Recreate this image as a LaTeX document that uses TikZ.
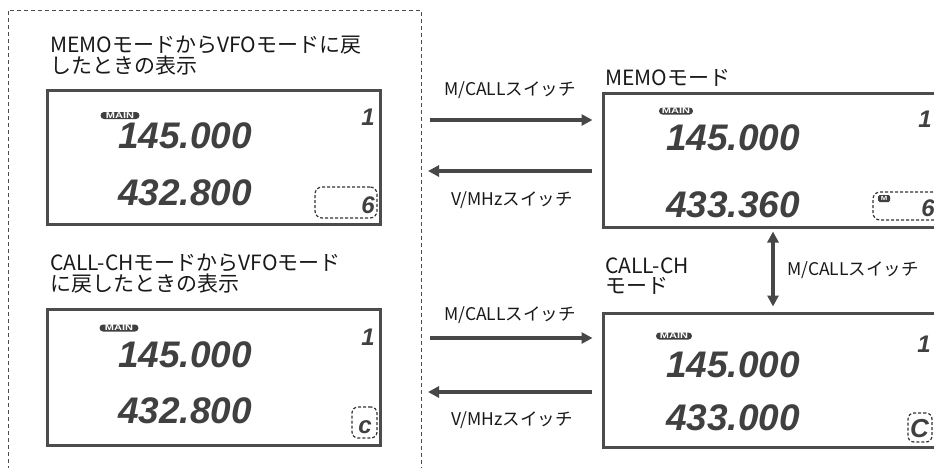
\documentclass[tikz,border=0pt]{standalone}
\usepackage{fontspec}
\setmainfont{Noto Sans CJK JP}
\newfontfamily\lcdfont{Liberation Sans}
\newfontfamily\pillfont{Liberation Sans}[FakeStretch=1.3]
\usetikzlibrary{arrows.meta}
\begin{document}
\begin{tikzpicture}[x=1pt,y=-1pt,
  every node/.style={inner sep=0pt,text=black!90},
  title/.style={font=\fontsize{21}{21}\selectfont,anchor=base west},
  swlabel/.style={font=\fontsize{17.5}{17.5}\selectfont,anchor=base},
  lcd/.style={draw=black!70,line width=3pt},
  bigdig/.style={font=\lcdfont\itshape\bfseries\fontsize{37}{37}\selectfont,text=black!75,
    text height=26pt,text depth=0pt,anchor=base east},
  smalldig/.style={font=\lcdfont\itshape\bfseries\fontsize{24}{24}\selectfont,text=black!75,anchor=base east},
  pill/.style={fill=black!75,rounded corners=3.5pt,minimum width=39,minimum height=7,text=white,
    font=\pillfont\bfseries\fontsize{8.5}{8.5}\selectfont},
  dashbox/.style={draw=black!80,line width=1.2pt,dash pattern=on 3pt off 2pt,rounded corners=7pt},
  sw/.style={draw=black!72,line width=3.2pt,-{Triangle[length=11pt,width=11pt]}}]
  \useasboundingbox (0,0) rectangle (934,467);
  \clip (0,0) rectangle (934,467);

  % left panel
  \draw[black!70,line width=0.8pt,dash pattern=on 4pt off 3pt] (8,470) -- (8,10) -- (421,10) -- (421,470);
  \node[title] (ttlA) at (50,52) {MEMOモードからVFOモードに戻};
  \node[title] (ttlAb) at (50,73) {したときの表示};
  \node[title] (ttlB) at (50,270) {CALL-CHモードからVFOモード};
  \node[title] (ttlBb) at (50,291) {に戻したときの表示};

  % displays
  \node[lcd,minimum width=333,minimum height=134] (lcdA) at (213.5,157) {};
  \node[lcd,minimum width=333,minimum height=136] (lcdB) at (213.5,377) {};
  \node[lcd,minimum width=360,minimum height=134] (lcdM) at (783,160) {};
  \node[lcd,minimum width=360,minimum height=134] (lcdC) at (783,380) {};

  % lcd A
  \node[pill] (mainA) at (120,115.5) {MAIN};
  \node[bigdig] (frqA1) at (252,148) {145.000};
  \node[bigdig] (frqA2) at (252,205) {432.800};
  \node[smalldig] (oneA) at (375,125) {1};
  \node[dashbox,minimum width=62,minimum height=31] (chA) at (346,202.5) {};
  \node[smalldig] (sixA) at (375,213) {6};

  % lcd B
  \node[pill] (mainB) at (119,328) {MAIN};
  \node[bigdig] (frqB1) at (252,367) {145.000};
  \node[bigdig] (frqB2) at (252,423) {432.800};
  \node[smalldig] (oneB) at (375,345) {1};
  \node[dashbox,minimum width=25,minimum height=31,rounded corners=6pt] (chB) at (364.5,422.5) {};
  \node[smalldig] (cB) at (372,433) {c};

  % lcd MEMO
  \node[title] (ttlM) at (605,85) {MEMOモード};
  \node[pill,minimum width=34] (mainM) at (676,111) {MAIN};
  \node[bigdig] (frqM1) at (800,150) {145.000};
  \node[bigdig] (frqM2) at (800,217) {433.360};
  \node[smalldig] (oneM) at (932,127) {1};
  \node[dashbox,minimum width=77,minimum height=28] (chM) at (911.5,206) {};
  \node[pill,minimum width=12,minimum height=7,rounded corners=1.5pt,font=\pillfont\bfseries\fontsize{6}{6}\selectfont] (memM) at (884,198.5) {M};
  \node[smalldig] (sixM) at (935,216) {6};

  % lcd CALL-CH
  \node[title] (ttlC) at (605,273) {CALL-CH};
  \node[title] (ttlCb) at (605,293) {モード};
  \node[pill,minimum width=36] (mainC) at (674,336) {MAIN};
  \node[bigdig] (frqC1) at (800,377) {145.000};
  \node[bigdig] (frqC2) at (800,430) {433.000};
  \node[smalldig] (oneC) at (931,352) {1};
  \node[dashbox,minimum width=24,minimum height=29,rounded corners=6pt] (chC) at (920,427.5) {};
  \node[smalldig,font=\lcdfont\itshape\bfseries\fontsize{26}{26}\selectfont] (cC) at (929,437) {C};

  % switches
  \coordinate (inM) at (430,120);
  \coordinate (outM) at (428,171);
  \coordinate (inC) at (430,338);
  \coordinate (outC) at (428,392);
  \draw[sw,shorten >=9pt] (inM) -- (inM -| lcdM.west);
  \draw[sw,shorten <=10pt] (outM -| lcdM.west) -- (outM);
  \draw[sw,shorten >=9pt] (inC) -- (inC -| lcdC.west);
  \draw[sw,shorten <=10pt] (outC -| lcdC.west) -- (outC);
  \draw[sw,{Triangle[length=11pt,width=11pt]}-{Triangle[length=11pt,width=11pt]},shorten <=3pt,shorten >=5pt]
    ([xshift=-10pt]lcdM.south) -- ([xshift=-10pt]lcdC.north);
  \node[swlabel] (swA) at (510,95) {M/CALLスイッチ};
  \node[swlabel] (swB) at (512,205) {V/MHzスイッチ};
  \node[swlabel] (swC) at (510,320) {M/CALLスイッチ};
  \node[swlabel] (swD) at (512,425) {V/MHzスイッチ};
  \node[swlabel,anchor=base west] (swE) at (787,275) {M/CALLスイッチ};
\end{tikzpicture}
\end{document}
